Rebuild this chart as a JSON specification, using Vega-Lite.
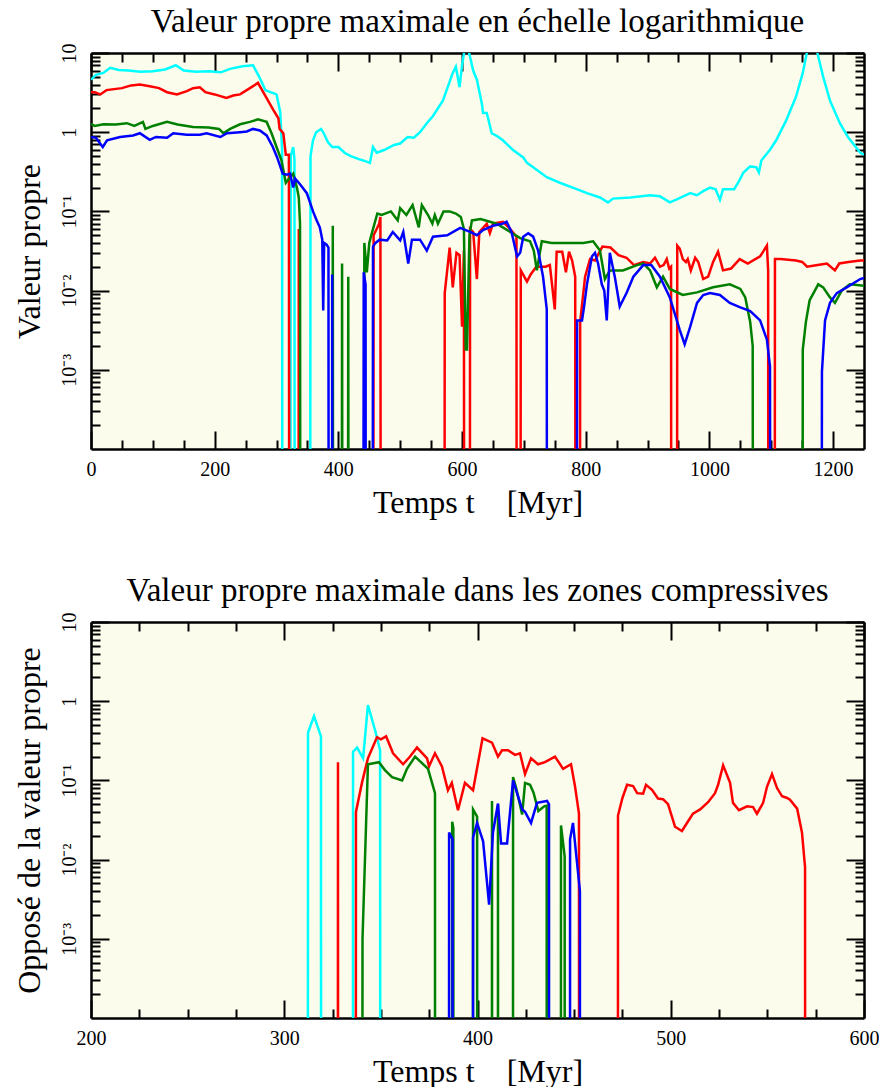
{
"$schema": "https://vega.github.io/schema/vega-lite/v6.json",
"background": "white",
"padding": {"left": 13, "top": 6, "right": 0, "bottom": 0},
"autosize": {"type": "pad"},
"spacing": 173,
"bounds": "flush",
"config": {
  "view": {"fill": "#fcfcec", "stroke": null},
  "font": "Liberation Serif",
  "axis": {"labelFont": "Liberation Serif", "labelFontSize": 20, "labelColor": "black", "titleFont": "Liberation Serif", "titleFontSize": 32, "titleFontWeight": "normal", "titleColor": "black", "grid": false, "tickColor": "black", "tickWidth": 2, "domainColor": "black", "domainWidth": 2.5, "labelFlush": false, "labelOverlap": false, "labelBound": false, "zindex": 1},
  "title": {"font": "Liberation Serif", "fontSize": 33, "fontWeight": "normal", "color": "black", "anchor": "middle", "baseline": "alphabetic", "offset": 4, "frame": "group"}
},
"datasets": {
"haut": [
{"t":0,"v":4.6,"c":"cyan"},{"t":8,"v":5.3,"c":"cyan"},{"t":20,"v":5.6,"c":"cyan"},{"t":31,"v":6.5,"c":"cyan"},{"t":45,"v":6.1,"c":"cyan"},{"t":60,"v":6.0,"c":"cyan"},{"t":80,"v":5.8,"c":"cyan"},{"t":100,"v":5.9,"c":"cyan"},{"t":120,"v":6.2,"c":"cyan"},{"t":137,"v":7.0,"c":"cyan"},{"t":150,"v":6.0,"c":"cyan"},{"t":170,"v":5.8,"c":"cyan"},{"t":190,"v":5.9,"c":"cyan"},{"t":210,"v":5.7,"c":"cyan"},{"t":225,"v":6.3,"c":"cyan"},{"t":245,"v":6.8,"c":"cyan"},{"t":262,"v":7.0,"c":"cyan"},{"t":272,"v":5.0,"c":"cyan"},{"t":282,"v":3.4,"c":"cyan"},{"t":290,"v":3.2,"c":"cyan"},{"t":300,"v":3.0,"c":"cyan"},{"t":306,"v":1.8,"c":"cyan"},{"t":309,"v":0.6,"c":"cyan"},{"t":311,"v":1e-30,"c":"cyan"},{"t":320,"v":1e-30,"c":"cyan"},{"t":323,"v":0.5,"c":"cyan"},{"t":327,"v":0.65,"c":"cyan"},{"t":329,"v":0.45,"c":"cyan"},{"t":331,"v":1e-30,"c":"cyan"},{"t":352,"v":1e-30,"c":"cyan"},{"t":355,"v":0.5,"c":"cyan"},{"t":359,"v":0.79,"c":"cyan"},{"t":364,"v":1.0,"c":"cyan"},{"t":372,"v":1.1,"c":"cyan"},{"t":377,"v":0.95,"c":"cyan"},{"t":383,"v":0.75,"c":"cyan"},{"t":390,"v":0.65,"c":"cyan"},{"t":400,"v":0.65,"c":"cyan"},{"t":410,"v":0.55,"c":"cyan"},{"t":420,"v":0.5,"c":"cyan"},{"t":432,"v":0.46,"c":"cyan"},{"t":440,"v":0.44,"c":"cyan"},{"t":451,"v":0.41,"c":"cyan"},{"t":456,"v":0.65,"c":"cyan"},{"t":462,"v":0.55,"c":"cyan"},{"t":475,"v":0.6,"c":"cyan"},{"t":490,"v":0.69,"c":"cyan"},{"t":500,"v":0.72,"c":"cyan"},{"t":512,"v":0.87,"c":"cyan"},{"t":522,"v":0.85,"c":"cyan"},{"t":532,"v":1.0,"c":"cyan"},{"t":543,"v":1.3,"c":"cyan"},{"t":553,"v":1.6,"c":"cyan"},{"t":569,"v":2.5,"c":"cyan"},{"t":585,"v":5.6,"c":"cyan"},{"t":590,"v":6.7,"c":"cyan"},{"t":596,"v":3.7,"c":"cyan"},{"t":600,"v":7.0,"c":"cyan"},{"t":604,"v":11,"c":"cyan"},{"t":610,"v":11,"c":"cyan"},{"t":613,"v":8.9,"c":"cyan"},{"t":618,"v":6.0,"c":"cyan"},{"t":624,"v":4.6,"c":"cyan"},{"t":632,"v":2.3,"c":"cyan"},{"t":634,"v":1.75,"c":"cyan"},{"t":640,"v":1.75,"c":"cyan"},{"t":648,"v":0.97,"c":"cyan"},{"t":656,"v":0.9,"c":"cyan"},{"t":666,"v":0.79,"c":"cyan"},{"t":682,"v":0.6,"c":"cyan"},{"t":699,"v":0.48,"c":"cyan"},{"t":705,"v":0.41,"c":"cyan"},{"t":715,"v":0.36,"c":"cyan"},{"t":737,"v":0.27,"c":"cyan"},{"t":758,"v":0.23,"c":"cyan"},{"t":779,"v":0.2,"c":"cyan"},{"t":802,"v":0.17,"c":"cyan"},{"t":823,"v":0.15,"c":"cyan"},{"t":836,"v":0.13,"c":"cyan"},{"t":844,"v":0.145,"c":"cyan"},{"t":872,"v":0.15,"c":"cyan"},{"t":904,"v":0.16,"c":"cyan"},{"t":920,"v":0.155,"c":"cyan"},{"t":936,"v":0.13,"c":"cyan"},{"t":950,"v":0.145,"c":"cyan"},{"t":969,"v":0.17,"c":"cyan"},{"t":980,"v":0.16,"c":"cyan"},{"t":990,"v":0.18,"c":"cyan"},{"t":1001,"v":0.2,"c":"cyan"},{"t":1010,"v":0.19,"c":"cyan"},{"t":1017,"v":0.14,"c":"cyan"},{"t":1022,"v":0.19,"c":"cyan"},{"t":1040,"v":0.19,"c":"cyan"},{"t":1049,"v":0.25,"c":"cyan"},{"t":1055,"v":0.31,"c":"cyan"},{"t":1066,"v":0.37,"c":"cyan"},{"t":1076,"v":0.36,"c":"cyan"},{"t":1080,"v":0.31,"c":"cyan"},{"t":1084,"v":0.44,"c":"cyan"},{"t":1098,"v":0.6,"c":"cyan"},{"t":1108,"v":0.79,"c":"cyan"},{"t":1124,"v":1.4,"c":"cyan"},{"t":1140,"v":2.8,"c":"cyan"},{"t":1151,"v":5.6,"c":"cyan"},{"t":1158,"v":10.5,"c":"cyan"},{"t":1166,"v":12,"c":"cyan"},{"t":1174,"v":10.5,"c":"cyan"},{"t":1184,"v":5,"c":"cyan"},{"t":1195,"v":2.5,"c":"cyan"},{"t":1211,"v":1.3,"c":"cyan"},{"t":1224,"v":0.87,"c":"cyan"},{"t":1244,"v":0.55,"c":"cyan"},{"t":1250,"v":0.52,"c":"cyan"},
{"t":0,"v":3.2,"c":"rouge"},{"t":6,"v":3.2,"c":"rouge"},{"t":15,"v":3.0,"c":"rouge"},{"t":25,"v":3.4,"c":"rouge"},{"t":50,"v":3.6,"c":"rouge"},{"t":65,"v":3.9,"c":"rouge"},{"t":79,"v":4.0,"c":"rouge"},{"t":95,"v":3.8,"c":"rouge"},{"t":110,"v":3.6,"c":"rouge"},{"t":123,"v":3.2,"c":"rouge"},{"t":139,"v":3.0,"c":"rouge"},{"t":155,"v":3.3,"c":"rouge"},{"t":165,"v":3.6,"c":"rouge"},{"t":176,"v":3.7,"c":"rouge"},{"t":185,"v":3.2,"c":"rouge"},{"t":200,"v":3.0,"c":"rouge"},{"t":219,"v":2.7,"c":"rouge"},{"t":230,"v":2.9,"c":"rouge"},{"t":241,"v":3.0,"c":"rouge"},{"t":257,"v":3.6,"c":"rouge"},{"t":270,"v":4.2,"c":"rouge"},{"t":284,"v":2.7,"c":"rouge"},{"t":295,"v":1.9,"c":"rouge"},{"t":303,"v":1.5,"c":"rouge"},{"t":305,"v":1.1,"c":"rouge"},{"t":311,"v":0.97,"c":"rouge"},{"t":315,"v":0.52,"c":"rouge"},{"t":320,"v":0.52,"c":"rouge"},{"t":323,"v":1e-30,"c":"rouge"},{"t":334,"v":1e-30,"c":"rouge"},{"t":336,"v":0.06,"c":"rouge"},{"t":338,"v":1e-30,"c":"rouge"},{"t":454,"v":1e-30,"c":"rouge"},{"t":457,"v":0.05,"c":"rouge"},{"t":462,"v":0.06,"c":"rouge"},{"t":466,"v":0.07,"c":"rouge"},{"t":468,"v":0.085,"c":"rouge"},{"t":471,"v":1e-30,"c":"rouge"},{"t":570,"v":1e-30,"c":"rouge"},{"t":572,"v":0.0093,"c":"rouge"},{"t":580,"v":0.035,"c":"rouge"},{"t":585,"v":0.011,"c":"rouge"},{"t":591,"v":0.03,"c":"rouge"},{"t":596,"v":0.028,"c":"rouge"},{"t":600,"v":0.0035,"c":"rouge"},{"t":603,"v":0.032,"c":"rouge"},{"t":606,"v":1e-30,"c":"rouge"},{"t":611,"v":1e-30,"c":"rouge"},{"t":613,"v":0.06,"c":"rouge"},{"t":618,"v":0.055,"c":"rouge"},{"t":624,"v":0.014,"c":"rouge"},{"t":628,"v":0.055,"c":"rouge"},{"t":640,"v":0.07,"c":"rouge"},{"t":645,"v":0.053,"c":"rouge"},{"t":650,"v":0.07,"c":"rouge"},{"t":666,"v":0.074,"c":"rouge"},{"t":678,"v":0.06,"c":"rouge"},{"t":688,"v":0.048,"c":"rouge"},{"t":690,"v":1e-30,"c":"rouge"},{"t":692,"v":1e-30,"c":"rouge"},{"t":695,"v":0.018,"c":"rouge"},{"t":705,"v":0.013,"c":"rouge"},{"t":711,"v":0.016,"c":"rouge"},{"t":720,"v":0.02,"c":"rouge"},{"t":735,"v":0.02,"c":"rouge"},{"t":742,"v":0.021,"c":"rouge"},{"t":750,"v":0.0058,"c":"rouge"},{"t":753,"v":0.031,"c":"rouge"},{"t":762,"v":0.031,"c":"rouge"},{"t":768,"v":0.017,"c":"rouge"},{"t":773,"v":0.031,"c":"rouge"},{"t":778,"v":0.024,"c":"rouge"},{"t":783,"v":0.015,"c":"rouge"},{"t":786,"v":1e-30,"c":"rouge"},{"t":789,"v":1e-30,"c":"rouge"},{"t":791,"v":0.004,"c":"rouge"},{"t":799,"v":0.015,"c":"rouge"},{"t":807,"v":0.025,"c":"rouge"},{"t":815,"v":0.024,"c":"rouge"},{"t":827,"v":0.036,"c":"rouge"},{"t":840,"v":0.035,"c":"rouge"},{"t":853,"v":0.028,"c":"rouge"},{"t":866,"v":0.026,"c":"rouge"},{"t":878,"v":0.021,"c":"rouge"},{"t":893,"v":0.023,"c":"rouge"},{"t":904,"v":0.022,"c":"rouge"},{"t":912,"v":0.026,"c":"rouge"},{"t":920,"v":0.02,"c":"rouge"},{"t":926,"v":0.021,"c":"rouge"},{"t":931,"v":0.025,"c":"rouge"},{"t":935,"v":0.019,"c":"rouge"},{"t":938,"v":0.02,"c":"rouge"},{"t":940,"v":1e-30,"c":"rouge"},{"t":946,"v":1e-30,"c":"rouge"},{"t":948,"v":0.037,"c":"rouge"},{"t":952,"v":0.034,"c":"rouge"},{"t":957,"v":0.025,"c":"rouge"},{"t":962,"v":0.023,"c":"rouge"},{"t":965,"v":0.025,"c":"rouge"},{"t":970,"v":0.018,"c":"rouge"},{"t":977,"v":0.026,"c":"rouge"},{"t":982,"v":0.023,"c":"rouge"},{"t":990,"v":0.014,"c":"rouge"},{"t":998,"v":0.015,"c":"rouge"},{"t":1006,"v":0.023,"c":"rouge"},{"t":1014,"v":0.031,"c":"rouge"},{"t":1022,"v":0.018,"c":"rouge"},{"t":1035,"v":0.019,"c":"rouge"},{"t":1049,"v":0.025,"c":"rouge"},{"t":1062,"v":0.022,"c":"rouge"},{"t":1082,"v":0.027,"c":"rouge"},{"t":1093,"v":0.037,"c":"rouge"},{"t":1095,"v":0.018,"c":"rouge"},{"t":1097,"v":1e-30,"c":"rouge"},{"t":1104,"v":1e-30,"c":"rouge"},{"t":1106,"v":0.025,"c":"rouge"},{"t":1115,"v":0.025,"c":"rouge"},{"t":1140,"v":0.024,"c":"rouge"},{"t":1150,"v":0.023,"c":"rouge"},{"t":1158,"v":0.02,"c":"rouge"},{"t":1175,"v":0.021,"c":"rouge"},{"t":1190,"v":0.022,"c":"rouge"},{"t":1203,"v":0.018,"c":"rouge"},{"t":1210,"v":0.022,"c":"rouge"},{"t":1225,"v":0.023,"c":"rouge"},{"t":1244,"v":0.024,"c":"rouge"},{"t":1250,"v":0.024,"c":"rouge"},
{"t":0,"v":1.26,"c":"vert"},{"t":6,"v":1.2,"c":"vert"},{"t":20,"v":1.26,"c":"vert"},{"t":40,"v":1.25,"c":"vert"},{"t":58,"v":1.3,"c":"vert"},{"t":70,"v":1.2,"c":"vert"},{"t":84,"v":1.35,"c":"vert"},{"t":88,"v":1.1,"c":"vert"},{"t":100,"v":1.2,"c":"vert"},{"t":123,"v":1.35,"c":"vert"},{"t":140,"v":1.25,"c":"vert"},{"t":165,"v":1.16,"c":"vert"},{"t":190,"v":1.15,"c":"vert"},{"t":207,"v":1.1,"c":"vert"},{"t":214,"v":0.97,"c":"vert"},{"t":225,"v":1.1,"c":"vert"},{"t":241,"v":1.26,"c":"vert"},{"t":257,"v":1.35,"c":"vert"},{"t":270,"v":1.45,"c":"vert"},{"t":284,"v":1.35,"c":"vert"},{"t":292,"v":0.97,"c":"vert"},{"t":300,"v":0.65,"c":"vert"},{"t":308,"v":0.44,"c":"vert"},{"t":315,"v":0.23,"c":"vert"},{"t":322,"v":0.27,"c":"vert"},{"t":327,"v":0.3,"c":"vert"},{"t":333,"v":0.2,"c":"vert"},{"t":336,"v":0.15,"c":"vert"},{"t":338,"v":0.07,"c":"vert"},{"t":341,"v":1e-30,"c":"vert"},{"t":388,"v":1e-30,"c":"vert"},{"t":391,"v":0.066,"c":"vert"},{"t":394,"v":1e-30,"c":"vert"},{"t":403,"v":1e-30,"c":"vert"},{"t":406,"v":0.022,"c":"vert"},{"t":409,"v":1e-30,"c":"vert"},{"t":413,"v":1e-30,"c":"vert"},{"t":416,"v":0.015,"c":"vert"},{"t":419,"v":1e-30,"c":"vert"},{"t":439,"v":1e-30,"c":"vert"},{"t":442,"v":0.04,"c":"vert"},{"t":446,"v":0.017,"c":"vert"},{"t":450,"v":0.04,"c":"vert"},{"t":455,"v":0.056,"c":"vert"},{"t":463,"v":0.094,"c":"vert"},{"t":470,"v":0.09,"c":"vert"},{"t":485,"v":0.1,"c":"vert"},{"t":496,"v":0.077,"c":"vert"},{"t":500,"v":0.11,"c":"vert"},{"t":510,"v":0.09,"c":"vert"},{"t":520,"v":0.12,"c":"vert"},{"t":530,"v":0.063,"c":"vert"},{"t":535,"v":0.12,"c":"vert"},{"t":545,"v":0.09,"c":"vert"},{"t":552,"v":0.07,"c":"vert"},{"t":556,"v":0.09,"c":"vert"},{"t":561,"v":0.07,"c":"vert"},{"t":570,"v":0.1,"c":"vert"},{"t":580,"v":0.1,"c":"vert"},{"t":590,"v":0.094,"c":"vert"},{"t":598,"v":0.085,"c":"vert"},{"t":603,"v":0.06,"c":"vert"},{"t":606,"v":0.0018,"c":"vert"},{"t":608,"v":0.0018,"c":"vert"},{"t":612,"v":0.05,"c":"vert"},{"t":616,"v":0.077,"c":"vert"},{"t":630,"v":0.08,"c":"vert"},{"t":645,"v":0.074,"c":"vert"},{"t":656,"v":0.07,"c":"vert"},{"t":678,"v":0.055,"c":"vert"},{"t":694,"v":0.046,"c":"vert"},{"t":710,"v":0.042,"c":"vert"},{"t":716,"v":0.032,"c":"vert"},{"t":721,"v":0.018,"c":"vert"},{"t":729,"v":0.042,"c":"vert"},{"t":745,"v":0.04,"c":"vert"},{"t":775,"v":0.04,"c":"vert"},{"t":796,"v":0.04,"c":"vert"},{"t":812,"v":0.042,"c":"vert"},{"t":823,"v":0.032,"c":"vert"},{"t":831,"v":0.014,"c":"vert"},{"t":839,"v":0.018,"c":"vert"},{"t":860,"v":0.018,"c":"vert"},{"t":883,"v":0.021,"c":"vert"},{"t":893,"v":0.022,"c":"vert"},{"t":904,"v":0.018,"c":"vert"},{"t":915,"v":0.011,"c":"vert"},{"t":925,"v":0.015,"c":"vert"},{"t":936,"v":0.0105,"c":"vert"},{"t":957,"v":0.0088,"c":"vert"},{"t":980,"v":0.0095,"c":"vert"},{"t":1006,"v":0.011,"c":"vert"},{"t":1033,"v":0.012,"c":"vert"},{"t":1050,"v":0.0105,"c":"vert"},{"t":1058,"v":0.0082,"c":"vert"},{"t":1066,"v":0.004,"c":"vert"},{"t":1070,"v":0.002,"c":"vert"},{"t":1074,"v":1e-30,"c":"vert"},{"t":1148,"v":1e-30,"c":"vert"},{"t":1151,"v":0.0018,"c":"vert"},{"t":1156,"v":0.004,"c":"vert"},{"t":1162,"v":0.0075,"c":"vert"},{"t":1176,"v":0.012,"c":"vert"},{"t":1184,"v":0.011,"c":"vert"},{"t":1195,"v":0.0082,"c":"vert"},{"t":1203,"v":0.007,"c":"vert"},{"t":1214,"v":0.01,"c":"vert"},{"t":1227,"v":0.012,"c":"vert"},{"t":1250,"v":0.0115,"c":"vert"},
{"t":0,"v":0.87,"c":"bleu"},{"t":8,"v":0.85,"c":"bleu"},{"t":19,"v":0.65,"c":"bleu"},{"t":26,"v":0.79,"c":"bleu"},{"t":47,"v":0.87,"c":"bleu"},{"t":68,"v":0.91,"c":"bleu"},{"t":79,"v":0.97,"c":"bleu"},{"t":95,"v":0.8,"c":"bleu"},{"t":105,"v":0.87,"c":"bleu"},{"t":123,"v":0.85,"c":"bleu"},{"t":133,"v":0.97,"c":"bleu"},{"t":155,"v":0.93,"c":"bleu"},{"t":176,"v":0.93,"c":"bleu"},{"t":187,"v":0.97,"c":"bleu"},{"t":209,"v":0.87,"c":"bleu"},{"t":220,"v":0.97,"c":"bleu"},{"t":241,"v":1.0,"c":"bleu"},{"t":252,"v":1.02,"c":"bleu"},{"t":262,"v":1.1,"c":"bleu"},{"t":273,"v":1.05,"c":"bleu"},{"t":284,"v":0.91,"c":"bleu"},{"t":294,"v":0.65,"c":"bleu"},{"t":301,"v":0.48,"c":"bleu"},{"t":306,"v":0.37,"c":"bleu"},{"t":310,"v":0.3,"c":"bleu"},{"t":317,"v":0.29,"c":"bleu"},{"t":322,"v":0.3,"c":"bleu"},{"t":327,"v":0.2,"c":"bleu"},{"t":330,"v":0.26,"c":"bleu"},{"t":338,"v":0.22,"c":"bleu"},{"t":349,"v":0.17,"c":"bleu"},{"t":359,"v":0.1,"c":"bleu"},{"t":365,"v":0.077,"c":"bleu"},{"t":370,"v":0.063,"c":"bleu"},{"t":374,"v":0.044,"c":"bleu"},{"t":375.5,"v":0.0056,"c":"bleu"},{"t":377,"v":0.04,"c":"bleu"},{"t":381,"v":0.038,"c":"bleu"},{"t":384,"v":0.035,"c":"bleu"},{"t":386,"v":1e-30,"c":"bleu"},{"t":389,"v":1e-30,"c":"bleu"},{"t":390,"v":0.016,"c":"bleu"},{"t":392,"v":1e-30,"c":"bleu"},{"t":438,"v":1e-30,"c":"bleu"},{"t":441,"v":0.017,"c":"bleu"},{"t":444,"v":0.012,"c":"bleu"},{"t":446,"v":1e-30,"c":"bleu"},{"t":453,"v":1e-30,"c":"bleu"},{"t":456,"v":0.036,"c":"bleu"},{"t":460,"v":0.04,"c":"bleu"},{"t":467,"v":0.044,"c":"bleu"},{"t":479,"v":0.043,"c":"bleu"},{"t":488,"v":0.055,"c":"bleu"},{"t":500,"v":0.043,"c":"bleu"},{"t":505,"v":0.055,"c":"bleu"},{"t":513,"v":0.022,"c":"bleu"},{"t":519,"v":0.044,"c":"bleu"},{"t":532,"v":0.044,"c":"bleu"},{"t":543,"v":0.032,"c":"bleu"},{"t":553,"v":0.048,"c":"bleu"},{"t":576,"v":0.05,"c":"bleu"},{"t":597,"v":0.062,"c":"bleu"},{"t":613,"v":0.055,"c":"bleu"},{"t":624,"v":0.05,"c":"bleu"},{"t":634,"v":0.058,"c":"bleu"},{"t":650,"v":0.066,"c":"bleu"},{"t":666,"v":0.07,"c":"bleu"},{"t":672,"v":0.074,"c":"bleu"},{"t":680,"v":0.055,"c":"bleu"},{"t":689,"v":0.027,"c":"bleu"},{"t":694,"v":0.03,"c":"bleu"},{"t":699,"v":0.048,"c":"bleu"},{"t":707,"v":0.053,"c":"bleu"},{"t":715,"v":0.048,"c":"bleu"},{"t":723,"v":0.032,"c":"bleu"},{"t":731,"v":0.015,"c":"bleu"},{"t":737,"v":0.0058,"c":"bleu"},{"t":739,"v":1e-30,"c":"bleu"},{"t":784,"v":1e-30,"c":"bleu"},{"t":786,"v":0.0042,"c":"bleu"},{"t":794,"v":0.0042,"c":"bleu"},{"t":797,"v":0.006,"c":"bleu"},{"t":802,"v":0.012,"c":"bleu"},{"t":810,"v":0.027,"c":"bleu"},{"t":815,"v":0.03,"c":"bleu"},{"t":820,"v":0.022,"c":"bleu"},{"t":826,"v":0.012,"c":"bleu"},{"t":830,"v":0.01,"c":"bleu"},{"t":834,"v":0.0042,"c":"bleu"},{"t":839,"v":0.03,"c":"bleu"},{"t":847,"v":0.015,"c":"bleu"},{"t":855,"v":0.0063,"c":"bleu"},{"t":866,"v":0.0093,"c":"bleu"},{"t":877,"v":0.015,"c":"bleu"},{"t":893,"v":0.021,"c":"bleu"},{"t":906,"v":0.021,"c":"bleu"},{"t":920,"v":0.015,"c":"bleu"},{"t":936,"v":0.0082,"c":"bleu"},{"t":952,"v":0.0032,"c":"bleu"},{"t":960,"v":0.0021,"c":"bleu"},{"t":969,"v":0.0035,"c":"bleu"},{"t":980,"v":0.007,"c":"bleu"},{"t":990,"v":0.0088,"c":"bleu"},{"t":1001,"v":0.0093,"c":"bleu"},{"t":1017,"v":0.0088,"c":"bleu"},{"t":1033,"v":0.007,"c":"bleu"},{"t":1049,"v":0.0062,"c":"bleu"},{"t":1066,"v":0.0055,"c":"bleu"},{"t":1082,"v":0.0042,"c":"bleu"},{"t":1093,"v":0.0024,"c":"bleu"},{"t":1098,"v":0.0011,"c":"bleu"},{"t":1102,"v":1e-30,"c":"bleu"},{"t":1178,"v":1e-30,"c":"bleu"},{"t":1182,"v":0.00095,"c":"bleu"},{"t":1187,"v":0.0042,"c":"bleu"},{"t":1195,"v":0.007,"c":"bleu"},{"t":1206,"v":0.0093,"c":"bleu"},{"t":1222,"v":0.011,"c":"bleu"},{"t":1244,"v":0.014,"c":"bleu"},{"t":1250,"v":0.0145,"c":"bleu"}
],
"bas": [
{"t":311.8,"v":1e-30,"c":"cyan"},{"t":312.3,"v":0.40,"c":"cyan"},{"t":315.4,"v":0.65,"c":"cyan"},{"t":319,"v":0.36,"c":"cyan"},{"t":319.3,"v":1e-30,"c":"cyan"},{"t":335.3,"v":1e-30,"c":"cyan"},{"t":335.6,"v":0.23,"c":"cyan"},{"t":337.7,"v":0.26,"c":"cyan"},{"t":340.8,"v":0.19,"c":"cyan"},{"t":343.3,"v":0.89,"c":"cyan"},{"t":347,"v":0.43,"c":"cyan"},{"t":349.6,"v":0.24,"c":"cyan"},{"t":350.1,"v":1e-30,"c":"cyan"},
{"t":327.5,"v":1e-30,"c":"rouge"},{"t":327.8,"v":0.17,"c":"rouge"},{"t":328.1,"v":1e-30,"c":"rouge"},{"t":336.8,"v":1e-30,"c":"rouge"},{"t":337.1,"v":0.04,"c":"rouge"},{"t":340.2,"v":0.093,"c":"rouge"},{"t":343.3,"v":0.19,"c":"rouge"},{"t":348,"v":0.35,"c":"rouge"},{"t":350,"v":0.33,"c":"rouge"},{"t":352.7,"v":0.36,"c":"rouge"},{"t":356.3,"v":0.22,"c":"rouge"},{"t":361.5,"v":0.16,"c":"rouge"},{"t":365.1,"v":0.2,"c":"rouge"},{"t":368.7,"v":0.26,"c":"rouge"},{"t":373.9,"v":0.19,"c":"rouge"},{"t":374.9,"v":0.15,"c":"rouge"},{"t":378,"v":0.22,"c":"rouge"},{"t":381.6,"v":0.15,"c":"rouge"},{"t":384.7,"v":0.075,"c":"rouge"},{"t":386.7,"v":0.093,"c":"rouge"},{"t":389.9,"v":0.042,"c":"rouge"},{"t":393.5,"v":0.093,"c":"rouge"},{"t":397.7,"v":0.075,"c":"rouge"},{"t":402.6,"v":0.34,"c":"rouge"},{"t":407.5,"v":0.3,"c":"rouge"},{"t":410.6,"v":0.2,"c":"rouge"},{"t":412.7,"v":0.24,"c":"rouge"},{"t":415.8,"v":0.24,"c":"rouge"},{"t":419.4,"v":0.21,"c":"rouge"},{"t":422,"v":0.22,"c":"rouge"},{"t":424.6,"v":0.12,"c":"rouge"},{"t":427.7,"v":0.19,"c":"rouge"},{"t":431.3,"v":0.16,"c":"rouge"},{"t":434.9,"v":0.17,"c":"rouge"},{"t":440.1,"v":0.2,"c":"rouge"},{"t":444.3,"v":0.14,"c":"rouge"},{"t":448.4,"v":0.16,"c":"rouge"},{"t":450.5,"v":0.083,"c":"rouge"},{"t":452.5,"v":0.038,"c":"rouge"},{"t":453,"v":1e-30,"c":"rouge"},{"t":472.5,"v":1e-30,"c":"rouge"},{"t":472.7,"v":0.036,"c":"rouge"},{"t":475,"v":0.06,"c":"rouge"},{"t":477.4,"v":0.088,"c":"rouge"},{"t":480.5,"v":0.085,"c":"rouge"},{"t":482.6,"v":0.069,"c":"rouge"},{"t":485.7,"v":0.068,"c":"rouge"},{"t":487.2,"v":0.088,"c":"rouge"},{"t":490.3,"v":0.076,"c":"rouge"},{"t":493.4,"v":0.059,"c":"rouge"},{"t":496,"v":0.058,"c":"rouge"},{"t":498.6,"v":0.05,"c":"rouge"},{"t":502.2,"v":0.026,"c":"rouge"},{"t":505.8,"v":0.023,"c":"rouge"},{"t":508.4,"v":0.029,"c":"rouge"},{"t":511.5,"v":0.038,"c":"rouge"},{"t":515.2,"v":0.043,"c":"rouge"},{"t":519.3,"v":0.053,"c":"rouge"},{"t":522.9,"v":0.069,"c":"rouge"},{"t":524.5,"v":0.088,"c":"rouge"},{"t":527.1,"v":0.155,"c":"rouge"},{"t":530.7,"v":0.093,"c":"rouge"},{"t":532.2,"v":0.052,"c":"rouge"},{"t":535.3,"v":0.042,"c":"rouge"},{"t":539.5,"v":0.047,"c":"rouge"},{"t":542.6,"v":0.046,"c":"rouge"},{"t":544.6,"v":0.038,"c":"rouge"},{"t":547.8,"v":0.052,"c":"rouge"},{"t":549.8,"v":0.083,"c":"rouge"},{"t":552.4,"v":0.12,"c":"rouge"},{"t":555,"v":0.08,"c":"rouge"},{"t":557.6,"v":0.063,"c":"rouge"},{"t":560.2,"v":0.06,"c":"rouge"},{"t":561.7,"v":0.057,"c":"rouge"},{"t":565.4,"v":0.044,"c":"rouge"},{"t":567.9,"v":0.022,"c":"rouge"},{"t":569.5,"v":0.008,"c":"rouge"},{"t":569.8,"v":1e-30,"c":"rouge"},
{"t":339.8,"v":1e-30,"c":"vert"},{"t":340.5,"v":0.001,"c":"vert"},{"t":343.3,"v":0.16,"c":"vert"},{"t":349,"v":0.17,"c":"vert"},{"t":352.1,"v":0.135,"c":"vert"},{"t":355.8,"v":0.11,"c":"vert"},{"t":361,"v":0.1,"c":"vert"},{"t":363.5,"v":0.14,"c":"vert"},{"t":367.7,"v":0.2,"c":"vert"},{"t":374.4,"v":0.14,"c":"vert"},{"t":378,"v":0.069,"c":"vert"},{"t":378.2,"v":1e-30,"c":"vert"},{"t":386.6,"v":1e-30,"c":"vert"},{"t":386.9,"v":0.03,"c":"vert"},{"t":387.5,"v":0.025,"c":"vert"},{"t":387.7,"v":1e-30,"c":"vert"},{"t":397.4,"v":1e-30,"c":"vert"},{"t":397.7,"v":0.043,"c":"vert"},{"t":399.8,"v":0.035,"c":"vert"},{"t":400.1,"v":1e-30,"c":"vert"},{"t":407.3,"v":1e-30,"c":"vert"},{"t":407.5,"v":0.055,"c":"vert"},{"t":407.8,"v":1e-30,"c":"vert"},{"t":410.4,"v":1e-30,"c":"vert"},{"t":410.6,"v":0.05,"c":"vert"},{"t":410.9,"v":1e-30,"c":"vert"},{"t":418.2,"v":1e-30,"c":"vert"},{"t":418.4,"v":0.11,"c":"vert"},{"t":420,"v":0.08,"c":"vert"},{"t":423.1,"v":0.037,"c":"vert"},{"t":424.6,"v":0.093,"c":"vert"},{"t":427.2,"v":0.088,"c":"vert"},{"t":429,"v":0.07,"c":"vert"},{"t":431.5,"v":0.041,"c":"vert"},{"t":434.5,"v":0.047,"c":"vert"},{"t":435.8,"v":0.048,"c":"vert"},{"t":436,"v":1e-30,"c":"vert"},{"t":443,"v":1e-30,"c":"vert"},{"t":443.2,"v":0.027,"c":"vert"},{"t":445.1,"v":0.011,"c":"vert"},{"t":445.3,"v":1e-30,"c":"vert"},
{"t":385,"v":1e-30,"c":"bleu"},{"t":385.3,"v":0.022,"c":"bleu"},{"t":387.1,"v":0.018,"c":"bleu"},{"t":387.3,"v":1e-30,"c":"bleu"},{"t":397.5,"v":1e-30,"c":"bleu"},{"t":397.7,"v":0.019,"c":"bleu"},{"t":399.8,"v":0.029,"c":"bleu"},{"t":402.9,"v":0.017,"c":"bleu"},{"t":406,"v":0.0027,"c":"bleu"},{"t":408,"v":0.022,"c":"bleu"},{"t":410.6,"v":0.051,"c":"bleu"},{"t":412.2,"v":0.016,"c":"bleu"},{"t":415.3,"v":0.016,"c":"bleu"},{"t":418.4,"v":0.1,"c":"bleu"},{"t":423.1,"v":0.043,"c":"bleu"},{"t":424.6,"v":0.04,"c":"bleu"},{"t":427.7,"v":0.029,"c":"bleu"},{"t":430.8,"v":0.052,"c":"bleu"},{"t":436,"v":0.055,"c":"bleu"},{"t":437,"v":0.05,"c":"bleu"},{"t":437.2,"v":1e-30,"c":"bleu"},{"t":447.7,"v":1e-30,"c":"bleu"},{"t":447.9,"v":0.018,"c":"bleu"},{"t":449.4,"v":0.029,"c":"bleu"},{"t":453,"v":0.004,"c":"bleu"},{"t":453.2,"v":1e-30,"c":"bleu"}
]
},
"vconcat": [
{
  "title": {"text": "Valeur propre maximale en échelle logarithmique"},
  "width": 773, "height": 396,
  "data": {"name": "haut"},
  "resolve": {"axis": {"x": "independent", "y": "independent"}},
  "layer": [
    {"mark": {"type": "line", "strokeWidth": 2.5, "clip": true},
     "encoding": {
       "x": {"field": "t", "type": "quantitative", "scale": {"domain": [0, 1250], "nice": false, "zero": false},
             "axis": {"orient": "bottom", "values": [0, 200, 400, 600, 800, 1000, 1200], "format": "d", "tickSize": -18, "labelPadding": 28, "title": "Temps t\u2003[Myr]", "titlePadding": 8}},
       "y": {"field": "v", "type": "quantitative", "scale": {"type": "log", "domain": [0.0001, 10], "nice": false},
             "axis": {"orient": "left", "values": [0.001, 0.01, 0.1, 1, 10], "tickSize": -18, "labelPadding": 30, "labelAngle": 270, "labelAlign": "center", "labelBaseline": "bottom", "labelExpr": "datum.value >= 5 ? '10' : datum.value >= 0.5 ? '1' : datum.value >= 0.05 ? '10⁻¹' : datum.value >= 0.005 ? '10⁻²' : '10⁻³'", "title": "Valeur propre", "titlePadding": 13}},
       "color": {"field": "c", "type": "nominal", "scale": {"domain": ["cyan", "rouge", "vert", "bleu"], "range": ["#00ffff", "#ff0000", "#008000", "#0000ff"]}, "legend": null}
     }},
    {"mark": {"type": "point", "opacity": 0, "clip": true},
     "encoding": {
       "x": {"field": "t", "type": "quantitative", "axis": {"orient": "bottom", "values": [50,100,150,250,300,350,450,500,550,650,700,750,850,900,950,1050,1100,1150], "tickSize": -9, "labels": false, "domain": false, "title": null}},
       "y": {"field": "v", "type": "quantitative", "axis": {"orient": "left", "values": [0.0002,0.0003,0.0004,0.0005,0.0006,0.0007,0.0008,0.0009,0.002,0.003,0.004,0.005,0.006,0.007,0.008,0.009,0.02,0.03,0.04,0.05,0.06,0.07,0.08,0.09,0.2,0.3,0.4,0.5,0.6,0.7,0.8,0.9,2,3,4,5,6,7,8,9], "tickSize": -9, "labels": false, "domain": false, "title": null}}
     }},
    {"mark": {"type": "point", "opacity": 0, "clip": true},
     "encoding": {
       "x": {"field": "t", "type": "quantitative", "axis": {"orient": "top", "values": [0, 200, 400, 600, 800, 1000, 1200], "tickSize": -18, "labels": false, "domain": true, "title": null}},
       "y": {"field": "v", "type": "quantitative", "axis": {"orient": "right", "values": [0.001, 0.01, 0.1, 1, 10], "tickSize": -18, "labels": false, "domain": true, "title": null}}
     }},
    {"mark": {"type": "point", "opacity": 0, "clip": true},
     "encoding": {
       "x": {"field": "t", "type": "quantitative", "axis": {"orient": "top", "values": [50,100,150,250,300,350,450,500,550,650,700,750,850,900,950,1050,1100,1150], "tickSize": -9, "labels": false, "domain": false, "title": null}},
       "y": {"field": "v", "type": "quantitative", "axis": {"orient": "right", "values": [0.0002,0.0003,0.0004,0.0005,0.0006,0.0007,0.0008,0.0009,0.002,0.003,0.004,0.005,0.006,0.007,0.008,0.009,0.02,0.03,0.04,0.05,0.06,0.07,0.08,0.09,0.2,0.3,0.4,0.5,0.6,0.7,0.8,0.9,2,3,4,5,6,7,8,9], "tickSize": -9, "labels": false, "domain": false, "title": null}}
     }}
  ]
},
{
  "title": {"text": "Valeur propre maximale dans les zones compressives"},
  "width": 773, "height": 396,
  "data": {"name": "bas"},
  "resolve": {"axis": {"x": "independent", "y": "independent"}},
  "layer": [
    {"mark": {"type": "line", "strokeWidth": 2.5, "clip": true},
     "encoding": {
       "x": {"field": "t", "type": "quantitative", "scale": {"domain": [200, 600], "nice": false, "zero": false},
             "axis": {"orient": "bottom", "values": [200, 300, 400, 500, 600], "format": "d", "tickSize": -18, "labelPadding": 28, "title": "Temps t\u2003[Myr]", "titlePadding": 8}},
       "y": {"field": "v", "type": "quantitative", "scale": {"type": "log", "domain": [0.0001, 10], "nice": false},
             "axis": {"orient": "left", "values": [0.001, 0.01, 0.1, 1, 10], "tickSize": -18, "labelPadding": 30, "labelAngle": 270, "labelAlign": "center", "labelBaseline": "bottom", "labelExpr": "datum.value >= 5 ? '10' : datum.value >= 0.5 ? '1' : datum.value >= 0.05 ? '10⁻¹' : datum.value >= 0.005 ? '10⁻²' : '10⁻³'", "title": "Opposé de la valeur propre", "titlePadding": 13}},
       "color": {"field": "c", "type": "nominal", "scale": {"domain": ["cyan", "rouge", "vert", "bleu"], "range": ["#00ffff", "#ff0000", "#008000", "#0000ff"]}, "legend": null}
     }},
    {"mark": {"type": "point", "opacity": 0, "clip": true},
     "encoding": {
       "x": {"field": "t", "type": "quantitative", "axis": {"orient": "bottom", "values": [225,250,275,325,350,375,425,450,475,525,550,575], "tickSize": -9, "labels": false, "domain": false, "title": null}},
       "y": {"field": "v", "type": "quantitative", "axis": {"orient": "left", "values": [0.0002,0.0003,0.0004,0.0005,0.0006,0.0007,0.0008,0.0009,0.002,0.003,0.004,0.005,0.006,0.007,0.008,0.009,0.02,0.03,0.04,0.05,0.06,0.07,0.08,0.09,0.2,0.3,0.4,0.5,0.6,0.7,0.8,0.9,2,3,4,5,6,7,8,9], "tickSize": -9, "labels": false, "domain": false, "title": null}}
     }},
    {"mark": {"type": "point", "opacity": 0, "clip": true},
     "encoding": {
       "x": {"field": "t", "type": "quantitative", "axis": {"orient": "top", "values": [200, 300, 400, 500, 600], "tickSize": -18, "labels": false, "domain": true, "title": null}},
       "y": {"field": "v", "type": "quantitative", "axis": {"orient": "right", "values": [0.001, 0.01, 0.1, 1, 10], "tickSize": -18, "labels": false, "domain": true, "title": null}}
     }},
    {"mark": {"type": "point", "opacity": 0, "clip": true},
     "encoding": {
       "x": {"field": "t", "type": "quantitative", "axis": {"orient": "top", "values": [225,250,275,325,350,375,425,450,475,525,550,575], "tickSize": -9, "labels": false, "domain": false, "title": null}},
       "y": {"field": "v", "type": "quantitative", "axis": {"orient": "right", "values": [0.0002,0.0003,0.0004,0.0005,0.0006,0.0007,0.0008,0.0009,0.002,0.003,0.004,0.005,0.006,0.007,0.008,0.009,0.02,0.03,0.04,0.05,0.06,0.07,0.08,0.09,0.2,0.3,0.4,0.5,0.6,0.7,0.8,0.9,2,3,4,5,6,7,8,9], "tickSize": -9, "labels": false, "domain": false, "title": null}}
     }}
  ]
}
]
}
